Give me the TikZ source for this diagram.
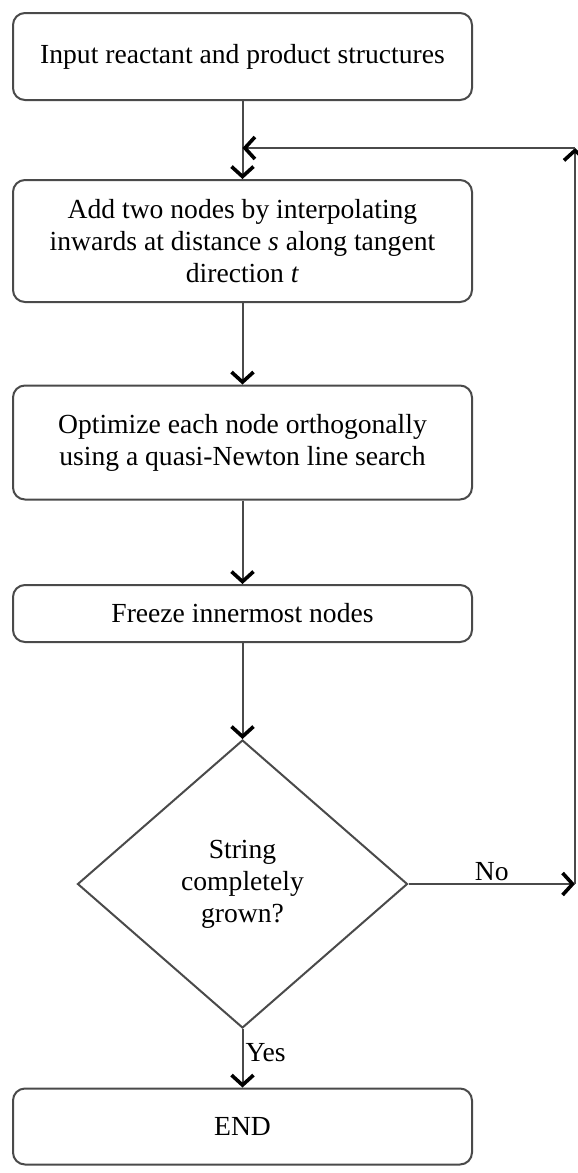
\documentclass[tikz,border=0pt]{standalone}
\usepackage{fontspec}
\setmainfont{Liberation Serif}
\usetikzlibrary{shapes.geometric,arrows.meta}
\definecolor{linecol}{HTML}{4A4A4A}
\tikzset{
  px/.style={x=0.5pt,y=-0.5pt},
  procbox/.style={draw=linecol, line width=1pt, rounded corners=6pt, minimum width=229.5pt, inner sep=2pt, align=center, font=\fontsize{13.8}{16}\selectfont, anchor=center},
  decbox/.style={draw=linecol, line width=1pt, shape=diamond, minimum width=165pt, minimum height=144pt, inner sep=0pt, align=center, font=\fontsize{13.8}{16}\selectfont},
  flow/.style={draw=linecol, line width=1pt, -{Straight Barb[length=5pt,width=11pt,line width=1.8pt,color=black]}},
  lbl/.style={font=\fontsize{13.8}{16}\selectfont, inner sep=1pt}
}
\begin{document}
\begin{tikzpicture}[px]
\useasboundingbox (0,0) rectangle (578,1173);
\node[procbox, minimum height=43.5pt] (input) at (242.5,56.5) {Input reactant and product structures};
\node[procbox, minimum height=61pt] (add) at (242.5,241) {Add two nodes by interpolating\\inwards at distance \textit{s} along tangent\\direction \textit{t}};
\node[procbox, minimum height=57pt] (opt) at (242.5,442.5) {Optimize each node orthogonally\\using a quasi-Newton line search};
\node[procbox, minimum height=28.5pt] (freeze) at (242.5,613.5) {Freeze innermost nodes};
\node[decbox] (dec) at (242.5,884) {String\\completely\\grown?};
\node[procbox, minimum height=38pt] (end) at (242.5,1126.5) {END};
\coordinate (corner) at (575,884);
\coordinate (topcorner) at (575,148);
\coordinate (join) at (input.south |- topcorner);
\draw[flow] (input.south) -- (add.north);
\draw[flow] (add.south) -- (opt.north);
\draw[flow] (opt.south) -- (freeze.north);
\draw[flow] (freeze.south) -- (dec.north);
\draw[flow] (dec.east) -- node[lbl, above, pos=0.5] (no) {No} (corner);
\draw[flow] (corner) -- (topcorner);
\draw[flow] (topcorner) -- (join);
\draw[flow] (dec.south) -- node[lbl, right, pos=0.4] (yes) {Yes} (end.north);
\end{tikzpicture}
\end{document}
